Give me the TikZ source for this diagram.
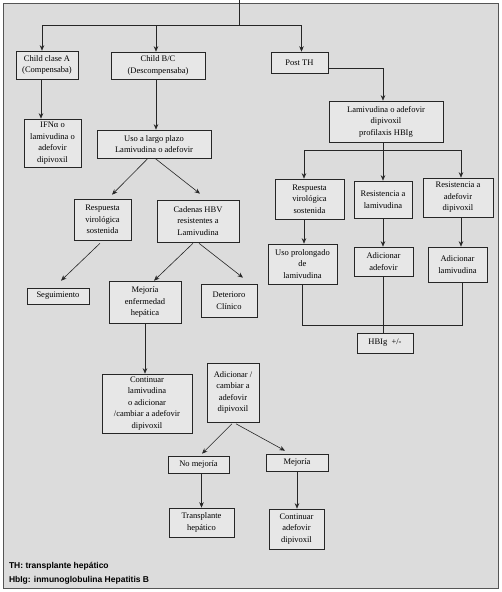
\documentclass[tikz,border=0pt]{standalone}
\usepackage{fontspec}
\setmainfont{Liberation Serif}
\newfontfamily\notefont{Liberation Sans}
\usetikzlibrary{arrows.meta,shadows}
\definecolor{panel}{HTML}{DCDCDC}
\definecolor{boxfill}{HTML}{E7E7E7}
\definecolor{rule}{HTML}{555555}

\begin{document}
\begin{tikzpicture}[x=1pt, y=-1pt,
    font=\fontsize{8.5}{11.5}\selectfont,
    b/.style={draw=black!85, fill=boxfill, line width=0.6pt, inner sep=0pt, align=center,
              drop shadow={shadow xshift=0.8pt, shadow yshift=-0.8pt, fill=black!45}},
    sz/.style 2 args={minimum width=#1pt, minimum height=#2pt},
    arr/.style={-{Stealth[length=5.5pt,width=4.5pt]}, line width=0.6pt, black!85},
    ln/.style={line width=0.6pt, black!85}]
    \path[use as bounding box] (0,0) rectangle (502,592);
    \draw[rule, line width=1pt, fill=panel] (3,3) rectangle (498,588);

    % left branch
    \node[b, sz={62}{28}]  (childA)   at (47,65)     {Child clase A\\(Compensaba)};
    \node[b, sz={94}{27}]  (childBC)  at (158,65.5)  {Child B/C\\(Descompensaba)};
    \node[b, sz={57}{48}]  (ifn)      at (52.5,143)  {IFNα o\\lamivudina o\\adefovir\\dipivoxil};
    \node[b, sz={114}{28}] (uso)      at (154,144)   {Uso a largo plazo\\Lamivudina o adefovir};
    \node[b, sz={57}{41}]  (respL)    at (102.5,219.5) {Respuesta\\virológica\\sostenida};
    \node[b, sz={82}{42}]  (cadenas)  at (198,221)   {Cadenas HBV\\resistentes a\\Lamivudina};
    \node[b, sz={62}{16}]  (seguim)   at (58,296)    {Seguimiento};
    \node[b, sz={72}{42}]  (mejoria)  at (145,302)   {Mejoría\\enfermedad\\hepática};
    \node[b, sz={56}{33}]  (deterioro) at (229,300.5) {Deterioro\\Clínico};
    \node[b, sz={90}{59}]  (continuarL) at (147,403.5) {Continuar\\lamivudina\\o adicionar\\/cambiar a adefovir\\dipivoxil};
    \node[b, sz={52}{59}]  (adicCamb) at (233,392.5) {Adicionar /\\cambiar a\\adefovir\\dipivoxil};
    \node[b, sz={61}{17}]  (noMej)    at (198.5,464.5) {No mejoría};
    \node[b, sz={62}{17}]  (mej)      at (297,462.5) {Mejoría};
    \node[b, sz={65}{29}]  (transpl)  at (201.5,522.5) {Transplante\\hepático};
    \node[b, sz={55}{40}]  (contAdef) at (296.5,529) {Continuar\\adefovir\\dipivoxil};

    % right branch (post TH)
    \node[b, sz={57}{21}]  (postTH)   at (299.5,62.5) {Post TH};
    \node[b, sz={114}{41}] (lamiv)    at (386,121.5) {Lamivudina o adefovir\\dipivoxil\\profilaxis HBIg};
    \node[b, sz={69}{40}]  (respR)    at (309.5,199) {Respuesta\\virológica\\sostenida};
    \node[b, sz={58}{37}]  (resLam)   at (383,199.5) {Resistencia a\\lamivudina};
    \node[b, sz={70}{39}]  (resAdef)  at (458,197.5) {Resistencia a\\adefovir\\dipivoxil};
    \node[b, sz={69}{40}]  (usoProl)  at (302.5,264) {Uso prolongado\\de\\lamivudina};
    \node[b, sz={59}{29}]  (adicAdef) at (383.5,261.5) {Adicionar\\adefovir};
    \node[b, sz={59}{35}]  (adicLam)  at (457.5,264.5) {Adicionar\\lamivudina};
    \node[b, sz={56}{20}]  (hbig)     at (385,343)   {HBIg\ \ +/-};

    % notes
    \node[anchor=west, font=\notefont\bfseries\fontsize{8.5}{10}\selectfont] (noteTH) at (5.5,566) {TH: transplante hepático};
    \node[anchor=west, font=\notefont\bfseries\fontsize{8.5}{10}\selectfont] (noteHb) at (5.5,580) {HbIg: inmunoglobulina Hepatitis B};

    % top split
    \coordinate (entry) at (239,0);
    \coordinate (bus) at (239,25);
    \draw[ln] (entry) -- (bus);
    \draw[arr] (bus) -| ([xshift=-5pt]childA.north);
    \draw[arr] (bus) -| ([xshift=-2pt]childBC.north);
    \draw[arr] (bus) -| ([xshift=2pt]postTH.north);

    \draw[arr] ([xshift=-6pt]childA.south) -- ([xshift=-6pt]childA.south |- ifn.north);
    \draw[arr] ([xshift=-2pt]childBC.south) -- ([xshift=-2pt]childBC.south |- uso.north);
    \draw[arr] ([xshift=-6pt]uso.south) -- ([xshift=9.5pt,yshift=4pt]respL.north);
    \draw[arr] ([xshift=1pt]uso.south) -- ([xshift=2pt,yshift=6pt]cadenas.north);
    \draw[arr] ([xshift=-2.5pt,yshift=-3pt]respL.south) -- ([xshift=3pt,yshift=7pt]seguim.north);
    \draw[arr] ([xshift=-5pt,yshift=-1pt]cadenas.south) -- ([xshift=9pt]mejoria.north);
    \draw[arr] ([xshift=1pt,yshift=-1pt]cadenas.south) -- ([xshift=14pt,yshift=6pt]deterioro.north);
    \draw[arr] (mejoria.south) -- (mejoria.south |- continuarL.north);
    \draw[arr] ([xshift=-1pt,yshift=-1.5pt]adicCamb.south) -- ([xshift=3.5pt,yshift=2pt]noMej.north);
    \draw[arr] ([xshift=3pt,yshift=-1.5pt]adicCamb.south) -- ([xshift=-12pt,yshift=3pt]mej.north);
    \draw[arr] (transpl.north |- noMej.south) -- (transpl.north);
    \draw[arr] (mej.south) -- (mej.south |- contAdef.north);

    \draw[arr] ([yshift=-5.5pt]postTH.east) -| ([xshift=-3pt]lamiv.north);
    \draw[ln] ([xshift=-3pt]lamiv.south) -- ++(0,8) coordinate (split);
    \draw[arr] (split) -| ([xshift=-5.5pt]respR.north);
    \draw[arr] (split) -- (split |- resLam.north);
    \draw[arr] (split) -| ([xshift=3pt]resAdef.north);
    \draw[arr] ([xshift=-5.5pt]respR.south) -- ([xshift=-5.5pt]respR.south |- usoProl.north);
    \draw[arr] (resLam.south) -- (resLam.south |- adicAdef.north);
    \draw[arr] ([xshift=3pt]resAdef.south) -- ([xshift=3pt]resAdef.south |- adicLam.north);
    \draw[ln] (usoProl.south) -- ++(0,41) coordinate (merge) -| ([xshift=4.5pt]adicLam.south);
    \draw[ln] (adicAdef.south) -- (adicAdef.south |- hbig.north);
\end{tikzpicture}
\end{document}
